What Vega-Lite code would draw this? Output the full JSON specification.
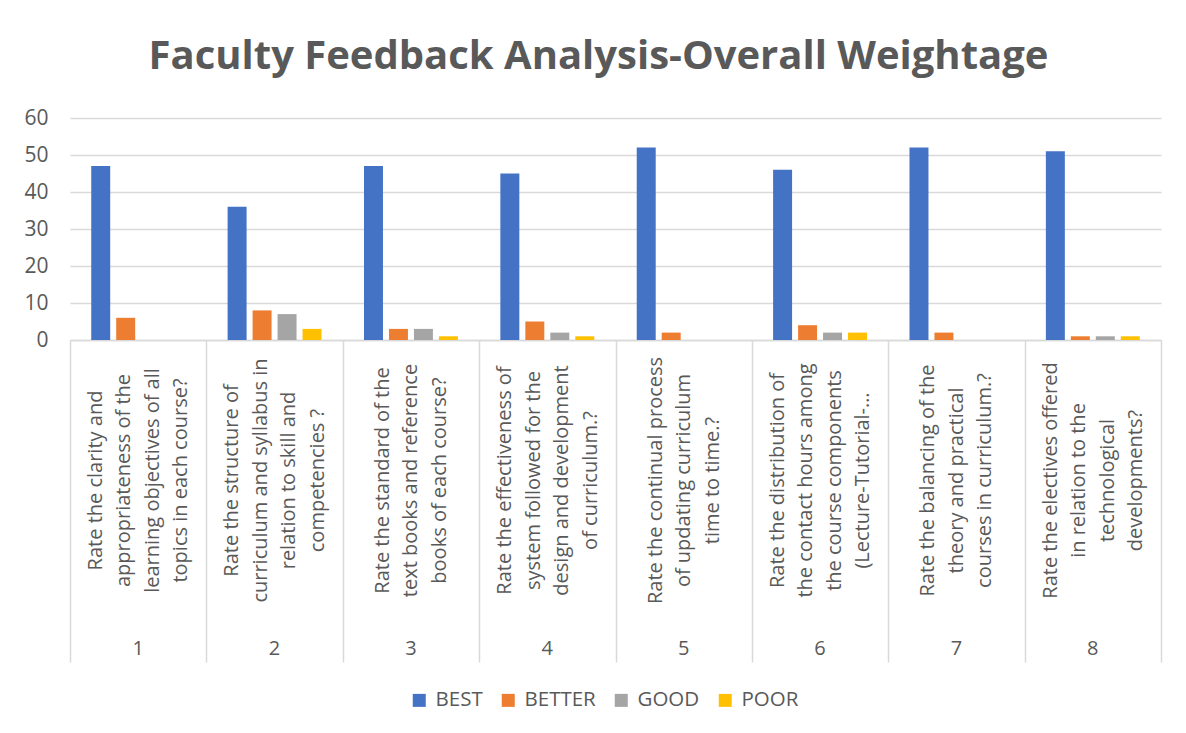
{
  "$schema": "https://vega.github.io/schema/vega-lite/v6.json",
  "width": 1091,
  "height": 222,
  "autosize": "none",
  "padding": {"left": 70, "top": 118, "right": 25, "bottom": 393},
  "background": "white",
  "config": {"font": "Open Sans", "view": {"stroke": null}},
  "title": {
    "text": "Faculty Feedback Analysis-Overall Weightage",
    "fontSize": 40,
    "fontWeight": "bold",
    "color": "#595959",
    "anchor": "middle",
    "frame": "group",
    "baseline": "alphabetic",
    "offset": -2,
    "dx": -17
  },
  "data": {
    "values": [
      {"q": "1|Rate the clarity and|appropriateness of the|learning objectives of all|topics in each course?", "BEST": 47, "BETTER": 6, "GOOD": 0, "POOR": 0},
      {"q": "2|Rate the structure of|curriculum and syllabus in|relation to skill and|competencies ?", "BEST": 36, "BETTER": 8, "GOOD": 7, "POOR": 3},
      {"q": "3|Rate the standard of the|text books and reference|books of each course?", "BEST": 47, "BETTER": 3, "GOOD": 3, "POOR": 1},
      {"q": "4|Rate the effectiveness of|system followed for the|design and development|of curriculum.?", "BEST": 45, "BETTER": 5, "GOOD": 2, "POOR": 1},
      {"q": "5|Rate the continual process|of updating  curriculum|time to time.?", "BEST": 52, "BETTER": 2, "GOOD": 0, "POOR": 0},
      {"q": "6|Rate the distribution of|the contact hours among|the course components|(Lecture-Tutorial-…", "BEST": 46, "BETTER": 4, "GOOD": 2, "POOR": 2},
      {"q": "7|Rate the balancing of the|theory and practical|courses in curriculum.?", "BEST": 52, "BETTER": 2, "GOOD": 0, "POOR": 0},
      {"q": "8|Rate the electives offered|in relation to the|technological|developments?", "BEST": 51, "BETTER": 1, "GOOD": 1, "POOR": 1}
    ]
  },
  "transform": [
    {"fold": ["BEST", "BETTER", "GOOD", "POOR"], "as": ["rating", "count"]}
  ],
  "resolve": {"axis": {"x": "independent"}},
  "layer": [
    {
      "mark": {"type": "bar"},
      "encoding": {
        "x": {
          "field": "q",
          "type": "nominal",
          "sort": null,
          "scale": {"paddingInner": 0, "paddingOuter": 0},
          "axis": {
            "orient": "bottom",
            "title": null,
            "grid": false,
            "tickBand": "extent",
            "tickSize": 322,
            "tickColor": "#d9d9d9",
            "tickWidth": 1.5,
            "domainColor": "#d9d9d9",
            "domainWidth": 1.5,
            "labelAngle": -90,
            "labelAlign": "center",
            "labelBaseline": "middle",
            "labelPadding": -182,
            "labelOffset": {
              "condition": {"test": "length(split(datum.value, '|')) == 5", "value": -42.75},
              "value": -28.5
            },
            "labelFontSize": 20,
            "labelLineHeight": 28.5,
            "labelColor": "#595959",
            "labelLimit": 0,
            "labelOverlap": false,
            "labelBound": false,
            "labelExpr": "slice(split(datum.value, '|'), 1)"
          }
        },
        "xOffset": {
          "field": "rating",
          "type": "nominal",
          "sort": ["BEST", "BETTER", "GOOD", "POOR"],
          "scale": {"paddingInner": 0.24, "paddingOuter": 0.85}
        },
        "y": {
          "field": "count",
          "type": "quantitative",
          "scale": {"domain": [0, 60], "nice": false},
          "axis": {
            "title": null,
            "values": [0, 10, 20, 30, 40, 50, 60],
            "domain": false,
            "ticks": false,
            "labelFontSize": 21,
            "labelColor": "#595959",
            "labelPadding": 22,
            "gridColor": "#d9d9d9",
            "gridWidth": 1.5
          }
        },
        "color": {
          "field": "rating",
          "type": "nominal",
          "scale": {
            "domain": ["BEST", "BETTER", "GOOD", "POOR"],
            "range": ["#4472C4", "#ED7D31", "#A5A5A5", "#FFC000"]
          },
          "legend": {
            "orient": "none",
            "legendX": 339,
            "legendY": 572,
            "direction": "horizontal",
            "title": null,
            "symbolType": "square",
            "symbolSize": 169,
            "symbolStrokeWidth": 0,
            "labelFontSize": 20.5,
            "labelColor": "#595959",
            "labelOffset": 6,
            "columnPadding": 15,
            "padding": 0
          }
        }
      }
    },
    {
      "mark": {"type": "point", "opacity": 0},
      "encoding": {
        "x": {
          "field": "q",
          "type": "nominal",
          "sort": null,
          "axis": {
            "orient": "bottom",
            "title": null,
            "grid": false,
            "ticks": false,
            "domain": false,
            "labelAngle": 0,
            "labelAlign": "center",
            "labelBaseline": "middle",
            "labelPadding": 308,
            "labelFontSize": 20,
            "labelColor": "#595959",
            "labelOverlap": false,
            "labelExpr": "split(datum.value, '|')[0]"
          }
        }
      }
    }
  ]
}
